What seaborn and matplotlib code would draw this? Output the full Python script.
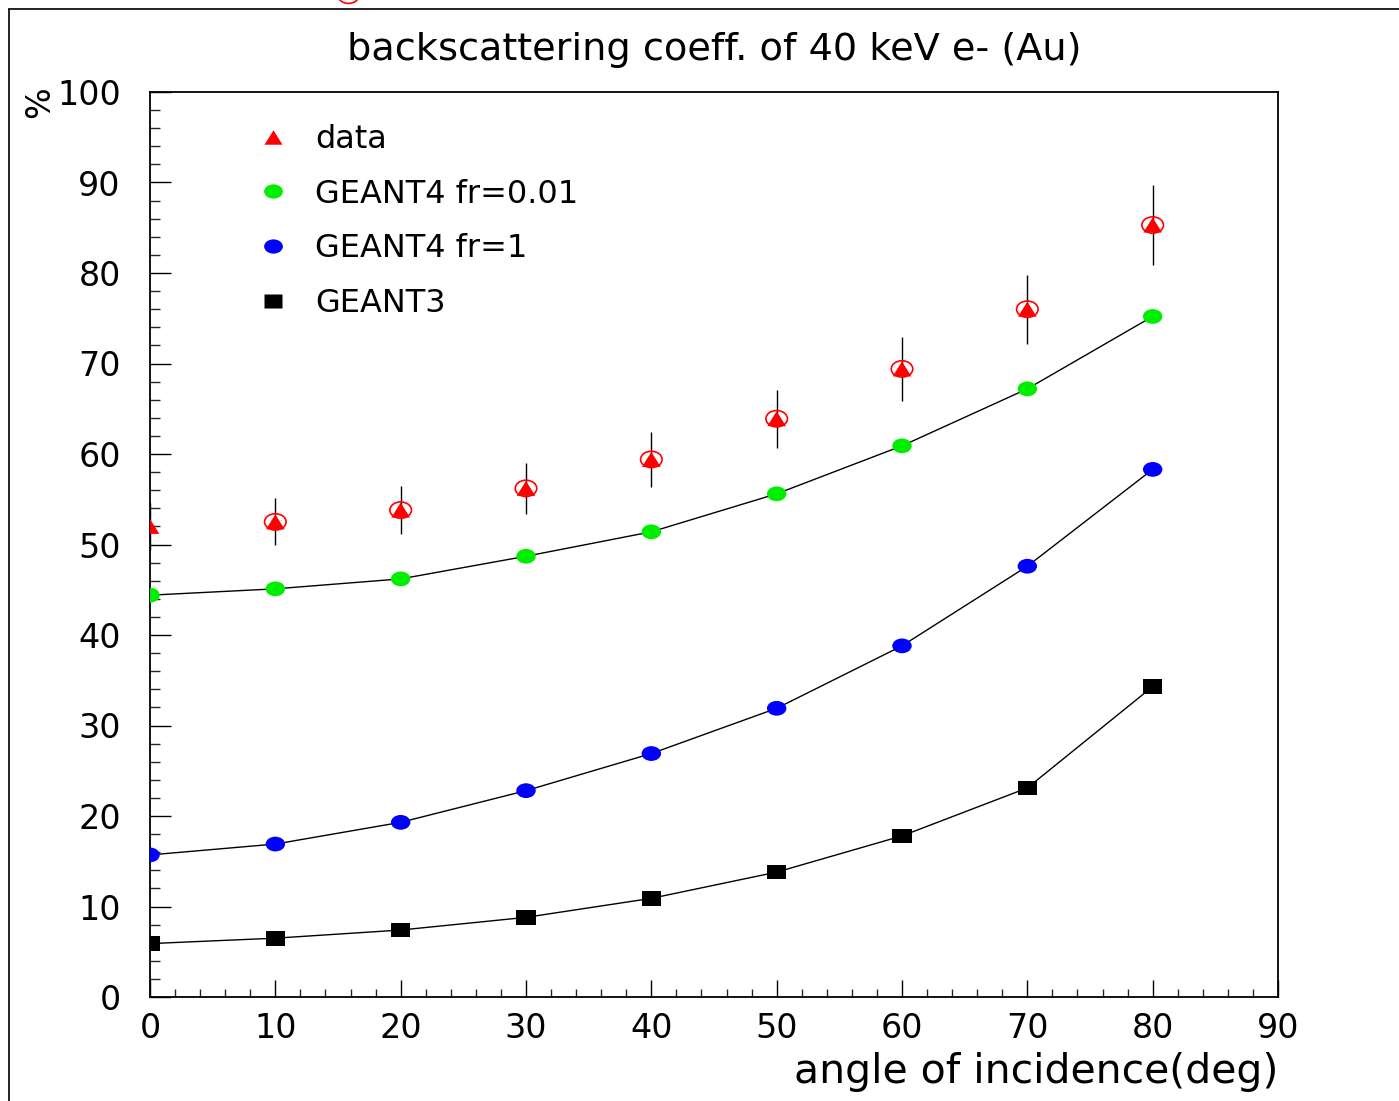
import numpy as np
import pandas as pd
import matplotlib
matplotlib.use("Agg")
import matplotlib.pyplot as plt
import seaborn as sns
from matplotlib.path import Path
from matplotlib.lines import Line2D
from matplotlib.ticker import MultipleLocator

# ---------------- data ----------------
angles = [0, 10, 20, 30, 40, 50, 60, 70, 80]
data_vals = [52.0, 52.5, 53.8, 56.2, 59.4, 63.9, 69.4, 76.0, 85.3]
data_err = [2.6, 2.6, 2.65, 2.8, 3.0, 3.2, 3.5, 3.8, 4.4]
g4_fr001 = [44.4, 45.1, 46.2, 48.7, 51.4, 55.6, 60.9, 67.2, 75.2]
g4_fr1 = [15.7, 16.9, 19.3, 22.8, 26.9, 31.9, 38.8, 47.6, 58.3]
g3 = [5.9, 6.5, 7.4, 8.8, 10.9, 13.8, 17.8, 23.1, 34.3]

labels = ["data", "GEANT4 fr=0.01", "GEANT4 fr=1", "GEANT3"]
title = "backscattering coeff. of 40 keV e- (Au)"
xlabel = "angle of incidence(deg)"
ylabel = "%"

# ---------------- style ----------------
sns.set_theme(style="white")
plt.rcParams["font.family"] = ["DejaVu Sans"]

W, H = 1399, 1101
fig = plt.figure(figsize=(W / 100, H / 100), dpi=100)
fig.patch.set_facecolor("white")
L, R, T, B = 150, 1278, 92, 997
ax = fig.add_axes([L / W, 1 - B / H, (R - L) / W, (B - T) / H])

# squashed ROOT-like markers
asp = 0.76
uc = Path.unit_circle()
ellipse = Path(uc.vertices * np.array([1.0, asp]), uc.codes)
rect = Path([(-1, -asp), (1, -asp), (1, asp), (-1, asp), (-1, -asp)],
            [Path.MOVETO, Path.LINETO, Path.LINETO, Path.LINETO, Path.CLOSEPOLY])
tri = Path([(0, 0.8), (-1, -0.8), (1, -0.8), (0, 0.8)],
           [Path.MOVETO, Path.LINETO, Path.LINETO, Path.CLOSEPOLY])

df = pd.DataFrame({
    "angle": angles * 3,
    "value": g4_fr001 + g4_fr1 + g3,
    "series": [labels[1]] * 9 + [labels[2]] * 9 + [labels[3]] * 9,
})

# connecting lines
for name in labels[1:]:
    sub = df[df["series"] == name]
    sns.lineplot(data=sub, x="angle", y="value", color="black", lw=1.0,
                 ax=ax, zorder=2, legend=False)

colors = {labels[1]: "#00ee00", labels[2]: "#0000ff", labels[3]: "#000000"}
mk = {labels[1]: ellipse, labels[2]: ellipse, labels[3]: rect}
for name in labels[1:]:
    sub = df[df["series"] == name]
    sns.scatterplot(data=sub, x="angle", y="value", color=colors[name],
                    marker=mk[name], s=14 ** 2, edgecolor="none",
                    linewidth=0, ax=ax, zorder=3, legend=False)

# data with error bars
ax.errorbar(angles, data_vals, yerr=data_err, fmt="none", ecolor="black",
            elinewidth=1.0, capsize=0, zorder=2)
sns.scatterplot(x=angles[1:], y=data_vals[1:], marker=ellipse, s=15.5 ** 2,
                facecolor="none", edgecolor="red", linewidth=1.2, ax=ax,
                zorder=3, legend=False)
sns.scatterplot(x=angles, y=data_vals, marker=tri, s=13.5 ** 2, color="red",
                edgecolor="none", linewidth=0, ax=ax, zorder=4, legend=False)

# axes
ax.set_xlim(0, 90)
ax.set_ylim(0, 100)
ax.set_xlabel("")
ax.set_ylabel("")
ax.xaxis.set_major_locator(MultipleLocator(10))
ax.xaxis.set_minor_locator(MultipleLocator(2))
ax.yaxis.set_major_locator(MultipleLocator(10))
ax.yaxis.set_minor_locator(MultipleLocator(2))
ax.tick_params(axis="x", which="major", direction="in", length=12, width=1.0,
               bottom=True, top=False, labelsize=24, pad=11, colors="black")
ax.tick_params(axis="x", which="minor", direction="in", length=6, width=1.0,
               bottom=True, top=False)
ax.tick_params(axis="y", which="major", direction="in", length=15, width=1.0,
               left=True, right=False, labelsize=24, pad=21, colors="black")
ax.tick_params(axis="y", which="minor", direction="in", length=7, width=1.0,
               left=True, right=False)
for s in ax.spines.values():
    s.set_color("black")
    s.set_linewidth(1.3)
ax.grid(False)

# legend
handles = [
    Line2D([], [], ls="none", marker=tri, ms=13, color="red", mec="none"),
    Line2D([], [], ls="none", marker=ellipse, ms=13.5, color="#00ee00", mec="none"),
    Line2D([], [], ls="none", marker=ellipse, ms=13.5, color="#0000ff", mec="none"),
    Line2D([], [], ls="none", marker=rect, ms=13.5, color="black", mec="none"),
]
ax.legend(handles, labels, loc="upper left",
          bbox_to_anchor=((259 - L) / (R - L), 1 - (124 - T) / (B - T)),
          frameon=False, fontsize=23, handlelength=0.9, handletextpad=0.85,
          labelspacing=0.74, borderaxespad=0, borderpad=0, labelcolor="black")

# texts
fig.text((L + R) / 2 / W, 1 - 50 / H, title, ha="center", va="center",
         fontsize=27.5, color="black")
fig.text(R / W, 1 - 1072 / H, xlabel, ha="right", va="center",
         fontsize=29.5, color="black")
fig.text(40 / W, 1 - 102 / H, ylabel, ha="center", va="center",
         rotation=90, fontsize=24, color="black")

# outer pad frame
fig.add_artist(Line2D([9 / W, 9 / W], [0, 1 - 9 / H], color="black", lw=1.2,
                      transform=fig.transFigure))
fig.add_artist(Line2D([9 / W, 1], [1 - 9 / H, 1 - 9 / H], color="black",
                      lw=1.2, transform=fig.transFigure))
# stray red marker at the top edge
fig.add_artist(Line2D([348 / W], [1 + 5 / H], ls="none", marker=ellipse,
                      ms=15, mfc="none", mec="red", mew=1.2,
                      transform=fig.transFigure, clip_on=False))

fig.savefig("out.png", dpi=100, facecolor="white")
